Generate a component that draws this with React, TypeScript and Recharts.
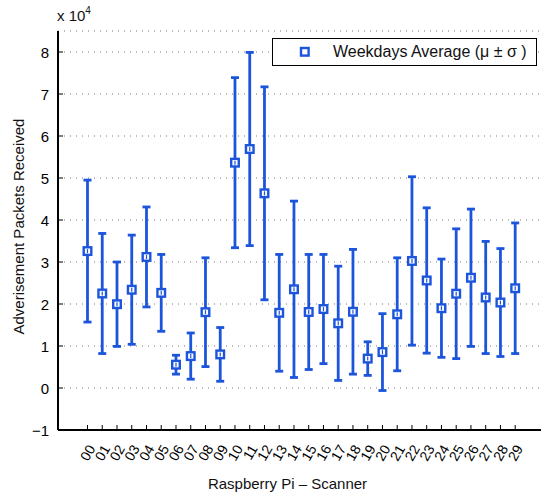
import React from 'react';
import {
  ComposedChart,
  Scatter,
  ErrorBar,
  XAxis,
  YAxis,
  CartesianGrid,
} from 'recharts';

const scannerLabels = [
  '00', '01', '02', '03', '04', '05', '06', '07', '08', '09',
  '10', '11', '12', '13', '14', '15', '16', '17', '18', '19',
  '20', '21', '22', '23', '24', '25', '26', '27', '28', '29',
];

const weekdayMean = [
  32600, 22500, 19950, 23400, 31200, 22650, 5550, 7600, 18050, 8000,
  53650, 56900, 46350, 17900, 23500, 18100, 18800, 15400, 18150, 7000,
  8550, 17550, 30250, 25600, 19000, 22450, 26250, 21550, 20350, 23750,
];

const weekdayStd = [
  16900, 14300, 10050, 13000, 11900, 9150, 2250, 5500, 12950, 6400,
  20250, 23000, 25350, 13900, 21000, 13700, 13000, 13600, 14850, 4000,
  9150, 13450, 20050, 17300, 11700, 15450, 16350, 13350, 12850, 15550,
];

const yTicks = [-10000, 0, 10000, 20000, 30000, 40000, 50000, 60000, 70000, 80000];

const data = scannerLabels.map((label, i) => ({
  idx: i,
  label,
  mean: weekdayMean[i],
  std: weekdayStd[i],
}));

const BLUE = '#1c55dc';
const FONT = '"Liberation Sans", Arial, Helvetica, sans-serif';
const xTickValues = scannerLabels.map((_, i) => i);

const SquareMarker = (props: any) => {
  const { cx, cy } = props;
  if (cx == null || cy == null) return null;
  return (
    <g>
      <rect x={cx - 3.8} y={cy - 3.8} width={7.6} height={7.6} fill="#ffffff" stroke={BLUE} strokeWidth={2.4} />
      <line x1={cx} x2={cx} y1={cy - 2} y2={cy + 2} stroke={BLUE} strokeWidth={1.2} />
    </g>
  );
};

const LeftYTick = (props: any) => {
  const { x, y, payload } = props;
  return (
    <g>
      <line x1={x} x2={x + 5} y1={y} y2={y} stroke="#000" strokeWidth={1} />
      <text x={x - 9} y={y} textAnchor="end" dominantBaseline="central" fontSize={15} fontFamily={FONT} fill="#000">
        {payload.value === -10000 ? '\u22121' : String(payload.value / 10000)}
      </text>
    </g>
  );
};

const RightYTick = (props: any) => {
  const { x, y } = props;
  return <line x1={x - 5} x2={x} y1={y} y2={y} stroke="#000" strokeWidth={1} />;
};

const BottomXTick = (props: any) => {
  const { x, y, payload } = props;
  const tx = x + 4;
  const ty = y + 16;
  return (
    <g>
      <line x1={x} x2={x} y1={y} y2={y - 5} stroke="#000" strokeWidth={1} />
      <text
        x={tx}
        y={ty}
        textAnchor="end"
        dominantBaseline="central"
        transform={`rotate(-60, ${tx}, ${ty})`}
        fontSize={14}
        fontFamily={FONT}
        fill="#000"
      >
        {scannerLabels[payload.value]}
      </text>
    </g>
  );
};

const TopXTick = (props: any) => {
  const { x, y } = props;
  return <line x1={x} x2={x} y1={y} y2={y + 5} stroke="#000" strokeWidth={1} />;
};

export default function App() {
  return (
    <div style={{ position: 'absolute', left: 0, top: 0, width: 542, height: 493, background: '#fff' }}>
      <ComposedChart
        width={542}
        height={493}
        data={data}
        margin={{ top: 31, right: 1, bottom: 0, left: 0 }}
        style={{ fontFamily: FONT }}
      >
        <CartesianGrid
          horizontal={true}
          vertical={false}
          stroke="#777"
          strokeDasharray="1 5"
          strokeWidth={1}
          yAxisId="left"
          xAxisId="bottom"
        />
        <XAxis
          xAxisId="bottom"
          dataKey="idx"
          type="number"
          domain={[-2, 30.75]}
          ticks={xTickValues}
          interval={0}
          allowDataOverflow
          height={63}
          tickSize={0}
          tickMargin={0}
          tickLine={false}
          axisLine={{ stroke: '#000', strokeWidth: 2 }}
          tick={<BottomXTick />}
          label={{
            value: 'Raspberry Pi \u2013 Scanner',
            position: 'insideBottom',
            offset: 4,
            dx: -12,
            fontSize: 15,
            fontFamily: FONT,
            fill: '#111',
          }}
        />
        <XAxis
          xAxisId="top"
          orientation="top"
          dataKey="idx"
          type="number"
          domain={[-2, 30.75]}
          ticks={xTickValues}
          interval={0}
          allowDataOverflow
          height={0}
          tickSize={0}
          tickMargin={0}
          tickLine={false}
          axisLine={{ stroke: '#000', strokeWidth: 1.5 }}
          tick={<TopXTick />}
        />
        <YAxis
          yAxisId="left"
          type="number"
          domain={[-10000, 85000]}
          ticks={yTicks}
          interval={0}
          allowDataOverflow
          width={58}
          tickSize={0}
          tickMargin={0}
          tickLine={false}
          axisLine={{ stroke: '#000', strokeWidth: 2 }}
          tick={<LeftYTick />}
          label={{
            value: 'Adverisement Packets Received',
            angle: -90,
            position: 'insideLeft',
            offset: 19,
            dy: 104,
            fontSize: 15,
            fontFamily: FONT,
            fill: '#111',
          }}
        />
        <YAxis
          yAxisId="right"
          orientation="right"
          type="number"
          domain={[-10000, 85000]}
          ticks={yTicks}
          interval={0}
          allowDataOverflow
          width={0}
          tickSize={0}
          tickMargin={0}
          tickLine={false}
          axisLine={{ stroke: '#000', strokeWidth: 1.5 }}
          tick={<RightYTick />}
        />
        <Scatter
          name="Weekdays Average (μ ± σ)"
          xAxisId="bottom"
          yAxisId="left"
          dataKey="mean"
          fill={BLUE}
          shape={<SquareMarker />}
          isAnimationActive={false}
        >
          <ErrorBar
            dataKey="std"
            direction="y"
            width={4}
            stroke={BLUE}
            strokeWidth={2.8}
            isAnimationActive={false}
          />
        </Scatter>
      </ComposedChart>
      <div
        style={{
          position: 'absolute',
          left: 272,
          top: 38,
          boxSizing: 'border-box',
          width: 265,
          height: 28,
          border: '1.5px solid #000',
          background: '#fff',
          display: 'flex',
          alignItems: 'center',
          fontFamily: FONT,
          fontSize: 16,
          color: '#111',
        }}
      >
        <svg width={60} height={20} style={{ display: 'block', flex: '0 0 auto' }}>
          <rect x={28} y={6} width={7.6} height={7.6} fill="#fff" stroke={BLUE} strokeWidth={2.4} />
        </svg>
        <span style={{ whiteSpace: 'nowrap' }}>Weekdays Average (μ ± σ )</span>
      </div>
      <div
        style={{
          position: 'absolute',
          left: 57,
          top: 8,
          fontFamily: FONT,
          fontSize: 15,
          color: '#111',
          whiteSpace: 'nowrap',
          lineHeight: '16px',
        }}
      >
        x 10<sup style={{ fontSize: 10, verticalAlign: 'top', position: 'relative', top: -5 }}>4</sup>
      </div>
    </div>
  );
}
